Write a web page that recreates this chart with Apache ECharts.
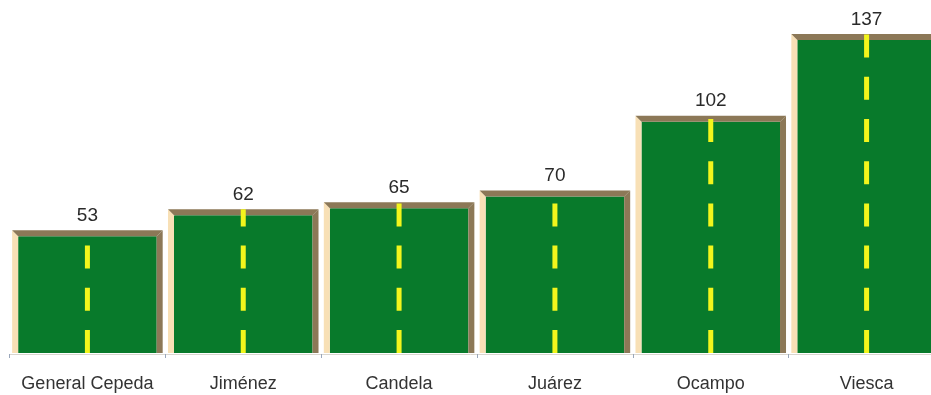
<!DOCTYPE html>
<html>
<head>
<meta charset="utf-8">
<script src="https://cdn.jsdelivr.net/npm/echarts@6/dist/echarts.min.js"></script>
<style>
  html, body { margin: 0; padding: 0; background: #fff; }
  #chart { width: 931px; height: 395px; }
</style>
</head>
<body>
<div id="chart"></div>
<script>
// municipios y valores
var categories = ['General Cepeda', 'Jiménez', 'Candela', 'Juárez', 'Ocampo', 'Viesca']
var values = [53, 62, 65, 70, 102, 137]

var chart = echarts.init(document.getElementById('chart'))

// barra con marco biselado y línea punteada al centro
function renderBar (params, api) {
  var idx = api.value(0)
  var top = api.coord([idx, api.value(1)])
  var base = api.coord([idx, 0])
  var bw = api.size([1, 0])[0] * 0.966
  var cx = top[0]
  var x0 = cx - bw / 2
  var x1 = cx + bw / 2
  var y0 = top[1]
  var yb = base[1] - 1
  var b = 6
  return {
    type: 'group',
    children: [
      { type: 'rect', shape: { x: x0 + b, y: y0 + b, width: bw - 2 * b, height: yb - y0 - b }, style: { fill: '#087a2b' } },
      { type: 'polygon', shape: { points: [[x0, y0], [x0 + b, y0 + b], [x0 + b, yb], [x0, yb]] }, style: { fill: '#f8e0b6' } },
      { type: 'polygon', shape: { points: [[x0, y0], [x1, y0], [x1 - b, y0 + b], [x0 + b, y0 + b]] }, style: { fill: '#8c7857' } },
      { type: 'polygon', shape: { points: [[x1, y0], [x1, yb], [x1 - b, yb], [x1 - b, y0 + b]] }, style: { fill: '#8c7857' } },
      { type: 'line', shape: { x1: cx, y1: yb, x2: cx, y2: y0 }, style: { stroke: '#f2f51c', lineWidth: 5, lineDash: [23, 19.2] } },
      { type: 'text', x: cx, y: y0 - 5, style: { text: String(api.value(1)), fill: '#2a2a2a', font: '19px "Liberation Sans", Arial, sans-serif', align: 'center', verticalAlign: 'bottom' } }
    ]
  }
}

chart.setOption({
  backgroundColor: '#fff',
  animation: false,
  grid: { left: 9.5, width: 935, top: 3.6, bottom: 41, outerBoundsMode: 'none' },
  xAxis: {
    type: 'category',
    data: categories,
    axisLine: { lineStyle: { color: '#d9d6cf', width: 1 } },
    axisTick: { show: true, interval: 0, length: 4, lineStyle: { color: '#9aa7bb' } },
    axisLabel: { interval: 0, color: '#333', fontSize: 18, fontFamily: '"Liberation Sans", Arial, sans-serif', margin: 21 }
  },
  yAxis: {
    type: 'value',
    min: 0,
    max: 150,
    show: false,
    splitLine: { show: false }
  },
  series: [{
    type: 'custom',
    renderItem: renderBar,
    data: values.map(function (v, i) { return [i, v] }),
    encode: { x: 0, y: 1 },
    clip: false
  }]
})
</script>
</body>
</html>
